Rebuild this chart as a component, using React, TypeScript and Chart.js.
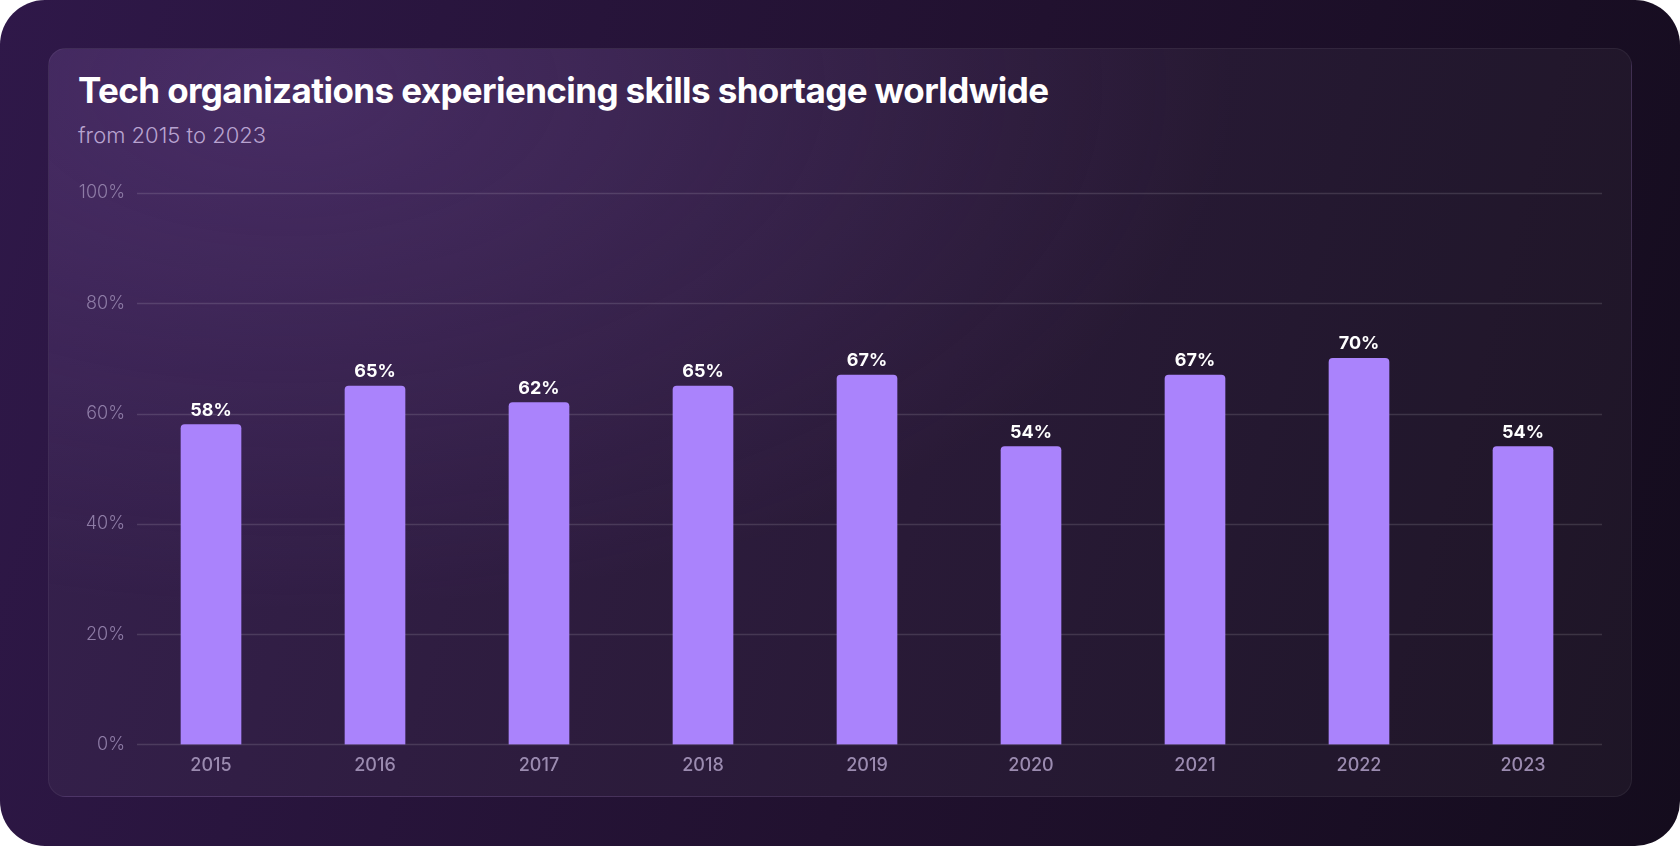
import { useEffect, useRef } from "react";
import { Chart, registerables } from "chart.js";

Chart.register(...registerables);

const years = ["2015", "2016", "2017", "2018", "2019", "2020", "2021", "2022", "2023"];
const shortageShare = [58, 65, 62, 65, 67, 54, 67, 70, 54];
const yTicks = [0, 20, 40, 60, 80, 100];

const FONT = "Inter, 'Noto Sans', sans-serif";

// grid lines drawn by hand so they can stop a little short of the bar area edges
const gridPlugin = {
  id: "gridLines",
  beforeDatasetsDraw(chart: any) {
    const { ctx, chartArea, scales } = chart;
    ctx.save();
    ctx.strokeStyle = "rgba(255,255,255,0.13)";
    ctx.lineWidth = 1.5;
    for (const t of yTicks) {
      const y = Math.round(scales.y.getPixelForValue(t)) + 0.5;
      ctx.beginPath();
      ctx.moveTo(chartArea.left + 8, y);
      ctx.lineTo(chartArea.right - 3, y);
      ctx.stroke();
    }
    ctx.restore();
  },
};

const valueLabels = {
  id: "valueLabels",
  afterDatasetsDraw(chart: any) {
    const { ctx } = chart;
    const meta = chart.getDatasetMeta(0);
    ctx.save();
    ctx.fillStyle = "#ffffff";
    ctx.font = `700 18px ${FONT}`;
    ctx.textAlign = "center";
    ctx.textBaseline = "alphabetic";
    meta.data.forEach((bar: any, i: number) => {
      ctx.fillText(shortageShare[i] + "%", bar.x, bar.y - 9);
    });
    ctx.restore();
  },
};

export default function App() {
  const canvasRef = useRef<HTMLCanvasElement | null>(null);

  useEffect(() => {
    const canvas = canvasRef.current;
    if (!canvas) return;

    const chart = new Chart(canvas, {
      type: "bar",
      data: {
        labels: years,
        datasets: [
          {
            data: shortageShare,
            backgroundColor: "#aa83fc",
            barThickness: 60,
            borderRadius: 4,
          },
        ],
      },
      options: {
        animation: false,
        responsive: false,
        layout: { padding: { top: 33, right: 27, bottom: 14, left: 0 } },
        plugins: { legend: { display: false }, tooltip: { enabled: false } },
        scales: {
          x: {
            grid: { display: false, drawTicks: false },
            border: { display: false },
            ticks: {
              color: "#9b8bb0",
              font: { family: FONT, size: 18, weight: 500 },
              padding: 10,
            },
          },
          y: {
            min: 0,
            max: 100,
            afterFit(scale: any) {
              scale.width = 81;
            },
            grid: { display: false, drawTicks: false },
            border: { display: false },
            ticks: {
              stepSize: 20,
              color: "#8e7ca6",
              padding: 4,
              font: { family: FONT, size: 18, weight: 300 },
              callback: (v: any) => v + "%",
            },
          },
        },
      },
      plugins: [gridPlugin, valueLabels],
    });

    return () => {
      chart.destroy();
    };
  }, []);

  return (
    <div style={{ position: "absolute", left: 0, top: 0, width: 1680, height: 846, background: "#ffffff" }}>
      <div
        style={{
          position: "absolute",
          inset: 0,
          borderRadius: 45,
          background: "linear-gradient(105deg, #2f1849 0%, #21112f 55%, #140c1d 100%)",
        }}
      />
      <div
        style={{
          position: "absolute",
          left: 48,
          top: 48,
          width: 1584,
          height: 749,
          borderRadius: 18,
          boxSizing: "border-box",
          border: "1px solid rgba(255,255,255,0.06)",
          background:
            "radial-gradient(ellipse 60% 70% at 15% 5%, rgba(110,70,150,0.35), rgba(110,70,150,0) 100%), rgba(255,255,255,0.04)",
        }}
      />
      <div
        style={{
          position: "absolute",
          left: 78,
          top: 69,
          color: "#ffffff",
          fontFamily: FONT,
          fontWeight: 700,
          fontSize: 35,
          letterSpacing: -0.6,
          whiteSpace: "nowrap",
        }}
      >
        Tech organizations experiencing skills shortage worldwide
      </div>
      <div
        style={{
          position: "absolute",
          left: 78,
          top: 122,
          color: "#b8a3d0",
          fontFamily: FONT,
          fontWeight: 300,
          fontSize: 22,
          whiteSpace: "nowrap",
        }}
      >
        from 2015 to 2023
      </div>
      <canvas
        ref={canvasRef}
        width={1584}
        height={640}
        style={{ position: "absolute", left: 48, top: 160, width: 1584, height: 640 }}
      />
    </div>
  );
}
